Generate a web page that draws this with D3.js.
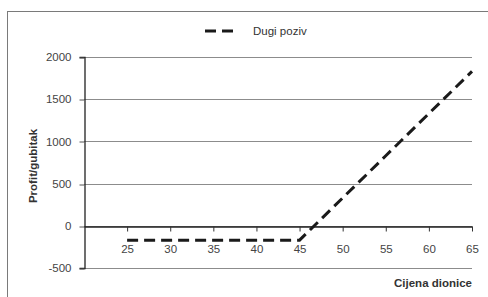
<!DOCTYPE html>
<html>
<head>
<meta charset="utf-8">
<script src="https://cdn.jsdelivr.net/npm/d3@7"></script>
<style>
  body { margin: 0; background: #fff; }
  text { font-family: "Liberation Sans", Arial, sans-serif; }
</style>
</head>
<body>
<svg id="chart" width="488" height="297"></svg>
<script>
// price of the share and the profit of a long call (strike 45)
var prices = [25, 30, 35, 40, 45, 50, 55, 60, 65];
var profits = [-170, -170, -170, -170, -170, 330, 830, 1330, 1830];
var yTicks = [-500, 0, 500, 1000, 1500, 2000];
var xTicks = [25, 30, 35, 40, 45, 50, 55, 60, 65];
var seriesName = 'Dugi poziv';

var svg = d3.select('#chart');

// outer frame
svg.append('rect')
    .attr('x', 7.5)
    .attr('y', 11.5)
    .attr('width', 500)
    .attr('height', 300)
    .attr('fill', 'none')
    .attr('stroke', '#7a7a7a')
    .attr('stroke-width', 1);

var padding = { top: 57, right: 16, bottom: 29, left: 84 };
var width = 488, height = 297;

var xScale = d3.scaleLinear()
                .domain([20, 65])
                .range([padding.left, width - padding.right]);

var yScale = d3.scaleLinear()
                .domain([-500, 2000])
                .range([height - padding.bottom, padding.top]);

// gridlines
svg.append('g')
    .selectAll('line')
    .data(yTicks)
    .enter()
    .append('line')
        .attr('x1', padding.left)
        .attr('x2', width - padding.right)
        .attr('y1', d => Math.round(yScale(d)) + 0.5)
        .attr('y2', d => Math.round(yScale(d)) + 0.5)
        .attr('stroke', '#8c8c8c')
        .attr('stroke-width', 1.2);

var yAxis = d3.axisLeft(yScale)
                .tickValues(yTicks)
                .tickSize(5)
                .tickPadding(8)
                .tickFormat(d => String(d));

var yG = svg.append('g')
    .attr('transform', `translate(${padding.left + 0.5}, 0)`)
    .call(yAxis);
yG.select('.domain').attr('stroke', '#222').attr('stroke-width', 1.3);
yG.selectAll('.tick line').attr('stroke', '#555')
    .attr('transform', d => `translate(0, ${Math.round(yScale(d)) + 0.5 - yScale(d)})`);
yG.selectAll('.tick text')
    .style('font-size', '11.5px')
    .attr('fill', '#444');

var xAxis = d3.axisBottom(xScale)
                .tickValues(xTicks)
                .tickSize(5)
                .tickPadding(13)
                .tickSizeOuter(0);

var xG = svg.append('g')
    .attr('transform', `translate(0, ${Math.round(yScale(0)) + 0.5})`)
    .call(xAxis);
xG.select('.domain').attr('stroke', '#222').attr('stroke-width', 1.3);
xG.selectAll('.tick line').attr('stroke', '#333');
xG.selectAll('.tick text')
    .style('font-size', '11.5px')
    .attr('fill', '#444');

// profit line
var line = d3.line()
                .x((d, i) => xScale(prices[i]))
                .y(d => yScale(d));

svg.append('path')
    .datum(profits)
    .attr('d', line)
    .attr('fill', 'none')
    .attr('stroke', '#1a1a1a')
    .attr('stroke-width', 3)
    .attr('stroke-dasharray', '11,6');

// axis titles
svg.append('text')
    .attr('transform', 'rotate(-90)')
    .attr('x', -166)
    .attr('y', 37)
    .style('font-size', '11.5px')
    .style('font-weight', 'bold')
    .attr('fill', '#333')
    .style('text-anchor', 'middle')
    .text('Profit/gubitak');

svg.append('text')
    .attr('x', width - padding.right)
    .attr('y', 287)
    .style('font-size', '11.5px')
    .style('font-weight', 'bold')
    .attr('fill', '#333')
    .style('text-anchor', 'end')
    .text('Cijena dionice');

// legend
var legend = svg.append('g').attr('transform', 'translate(205, 31)');
legend.append('line')
    .attr('x1', 0)
    .attr('x2', 29)
    .attr('stroke', '#1a1a1a')
    .attr('stroke-width', 3)
    .attr('stroke-dasharray', '11,6');
legend.append('text')
    .attr('x', 48)
    .attr('dy', '0.35em')
    .style('font-size', '11.5px')
    .attr('fill', '#333')
    .text(seriesName);
</script>
</body>
</html>
